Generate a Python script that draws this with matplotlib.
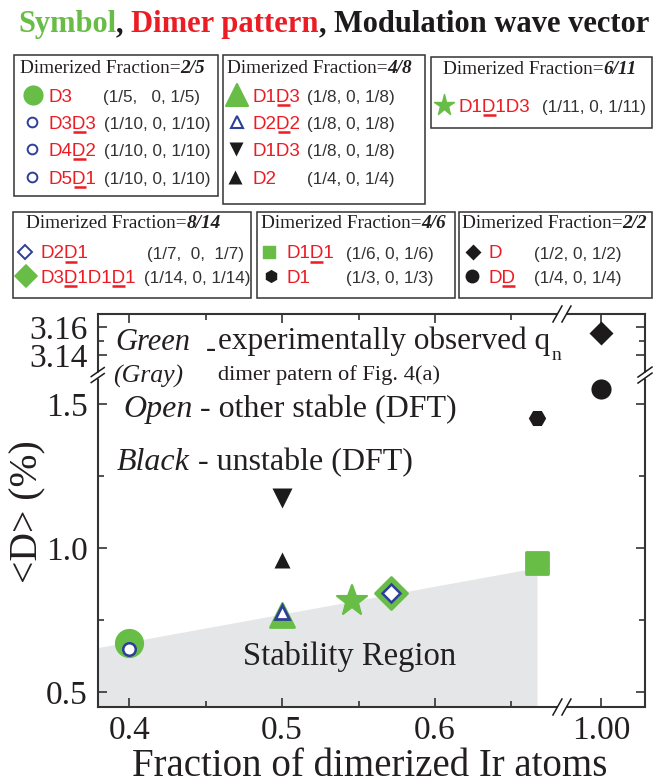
import numpy as np
import matplotlib
matplotlib.use("Agg")
import matplotlib.pyplot as plt
from matplotlib.patches import Rectangle
from matplotlib.markers import MarkerStyle

# ------------------------------------------------------------------ data
frac_ticks = [0.4, 0.5, 0.6, 1.0]
frac_tick_labels = ['0.4', '0.5', '0.6', '1.00']
frac_minor = [0.45, 0.55, 0.65]
d_ticks = [0.5, 1.0, 1.5, 3.14, 3.16]
d_tick_labels = ['0.5', '1.0', '1.5', '3.14', '3.16']
d_minor = [0.75, 1.25, 3.15]

# experimentally observed (green)
green_circle_x, green_circle_y = [2/5], [0.669]
green_tri_x, green_tri_y = [4/8], [0.769]
green_star_x, green_star_y = [6/11], [0.817]
green_diam_x, green_diam_y = [8/14], [0.845]
green_sq_x, green_sq_y = [4/6], [0.948]
# other stable (open)
open_circle_x, open_circle_y = [2/5], [0.648]
open_tri_x, open_tri_y = [4/8], [0.776]
open_diam_x, open_diam_y = [8/14], [0.845]
# unstable (black)
black_dtri_x, black_dtri_y = [4/8], [1.174]
black_utri_x, black_utri_y = [4/8], [0.959]
black_hex_x, black_hex_y = [4/6], [1.451]
black_circle_x, black_circle_y = [1.0], [1.552]
black_diam_x, black_diam_y = [1.0], [3.156]

# stability region
region_x = [0.3794, 0.667, 0.667, 0.3794]
region_y = [0.652, 0.930, 0.448, 0.448]

# axis limits and broken ranges
x_lim = (0.3794, 1.0288)
x_gap = (0.683, 0.9745)
y_lim = (0.448, 3.1693)
y_gap = (1.60, 3.1257)
y_upper_ratio = 1400 / 288.0

# legend boxes
box_titles = ['2/5', '4/8', '6/11', '8/14', '4/6', '2/2']
box_patterns = [['D3', 'D3D3', 'D4D2', 'D5D1'],
                ['D1D3', 'D2D2', 'D1D3', 'D2'],
                ['D1D1D3'],
                ['D2D1', 'D3D1D1D1'],
                ['D1D1', 'D1'],
                ['D', 'DD']]
box_underlines = [[[], [2], [2], [2]],
                  [[2], [2], [], []],
                  [[2]],
                  [[2], [2, 6]],
                  [[2], []],
                  [[], [1]]]
box_vectors = [['(1/5,   0, 1/5)', '(1/10, 0, 1/10)', '(1/10, 0, 1/10)', '(1/10, 0, 1/10)'],
               ['(1/8, 0, 1/8)', '(1/8, 0, 1/8)', '(1/8, 0, 1/8)', '(1/4, 0, 1/4)'],
               ['(1/11, 0, 1/11)'],
               ['(1/7,  0,  1/7)', '(1/14, 0, 1/14)'],
               ['(1/6, 0, 1/6)', '(1/3, 0, 1/3)'],
               ['(1/2, 0, 1/2)', '(1/4, 0, 1/4)']]

# ------------------------------------------------------------------ style
G = '#67bd45'
B = '#2e3f98'
K = '#1c1a1b'
R = '#ec1c24'
TXT = '#231f20'
VEC = '#333333'
GRAY = '#e5e6e7'
SERIF = 'Liberation Serif'
SANS = 'Liberation Sans'

plt.rcParams['font.family'] = 'serif'
plt.rcParams['font.serif'] = [SERIF, 'DejaVu Serif']

W, H = 655, 784
fig = plt.figure(figsize=(W / 100, H / 100), dpi=100)


def piecewise(lo_gap, hi_gap, ratio):
    kd = np.array([-100.0, lo_gap, hi_gap, 100.0])
    kt = np.array([-100.0, lo_gap, lo_gap + 1e-5,
                   lo_gap + 1e-5 + (100.0 - hi_gap) * ratio])
    return (lambda v: np.interp(v, kd, kt), lambda v: np.interp(v, kt, kd))


ax = fig.add_axes([97.7 / W, 1 - 707 / H, (645 - 97.7) / W, (707 - 314) / H])
ax.set_xscale('function', functions=piecewise(x_gap[0], x_gap[1], 1.0))
ax.set_yscale('function', functions=piecewise(y_gap[0], y_gap[1], y_upper_ratio))
ax.set_xlim(*x_lim)
ax.set_ylim(*y_lim)

ax.fill(region_x, region_y, color=GRAY, lw=0, zorder=1)


def mk(m):
    return MarkerStyle(m, joinstyle='round')


ax.plot(green_circle_x, green_circle_y, ls='none', marker='o', ms=21, mfc=G, mec='none', zorder=3)
ax.plot(open_circle_x, open_circle_y, ls='none', marker='o', ms=9, mfc='white', mec=B, mew=1.8, zorder=4)
ax.plot(green_tri_x, green_tri_y, ls='none', marker=mk('^'), ms=17, mfc=G, mec=G, mew=2, zorder=3)
ax.plot(open_tri_x, open_tri_y, ls='none', marker='^', ms=10, mfc='white', mec=B, mew=2, zorder=4)
ax.plot(green_star_x, green_star_y, ls='none', marker=mk('*'), ms=23, mfc=G, mec=G, mew=1.5, zorder=3)
ax.plot(green_diam_x, green_diam_y, ls='none', marker=mk('D'), ms=16, mfc=G, mec=G, mew=2, zorder=3)
ax.plot(open_diam_x, open_diam_y, ls='none', marker='D', ms=9.5, mfc='white', mec=B, mew=1.8, zorder=4)
ax.plot(green_sq_x, green_sq_y, ls='none', marker=mk('s'), ms=15.5, mfc=G, mec=G, mew=2, zorder=3)
ax.plot(black_dtri_x, black_dtri_y, ls='none', marker='v', ms=14, mfc=K, mec='none', zorder=3)
ax.plot(black_utri_x, black_utri_y, ls='none', marker='^', ms=11, mfc=K, mec='none', zorder=3)
ax.plot(black_hex_x, black_hex_y, ls='none', marker='H', ms=12.5, mfc=K, mec='none', zorder=3)
ax.plot(black_circle_x, black_circle_y, ls='none', marker='o', ms=14.5, mfc=K, mec='none', zorder=3)
ax.plot(black_diam_x, black_diam_y, ls='none', marker='D', ms=12.5, mfc=K, mec='none', zorder=3)

ax.set_xticks(frac_ticks, labels=frac_tick_labels)
ax.set_xticks(frac_minor, minor=True)
ax.set_yticks(d_ticks, labels=d_tick_labels)
ax.set_yticks(d_minor, minor=True)
ax.tick_params(which='both', direction='in', top=True, right=True, width=1.2,
               color='#333333', labelsize=24, labelcolor=TXT)
ax.tick_params(which='major', length=6.5)
ax.tick_params(which='minor', length=4.5)
ax.tick_params(axis='x', pad=6)
ax.tick_params(axis='y', pad=7)
for s in ax.spines.values():
    s.set_linewidth(1.5)
    s.set_color('#333333')

# ------------------------------------------------------------------ overlay (pixel coordinates)
ov = fig.add_axes([0, 0, 1, 1], zorder=5)
ov.set_xlim(0, W)
ov.set_ylim(H, 0)
ov.axis('off')
renderer = fig.canvas.get_renderer()


def adv(s, **kw):
    if not s:
        return 0.0
    t1 = ov.text(0, 0, s + '|', **kw)
    w1 = t1.get_window_extent(renderer).width
    t1.remove()
    t2 = ov.text(0, 0, '|', **kw)
    w2 = t2.get_window_extent(renderer).width
    t2.remove()
    return w1 - w2


def runs(x, y, parts, **common):
    for text, color, extra in parts:
        kw = dict(common)
        kw.update(extra)
        kw['color'] = color
        ov.text(x, y, text, va='baseline', ha='left', **kw)
        x += adv(text, **kw)
    return x


# title
runs(18, 32, [('Symbol', G, {}), (', ', K, {}), ('Dimer pattern', R, {}),
              (', ', K, {}), ('Modulation wave vector', K, {})],
     fontsize=22, family=SERIF, fontweight='bold')

# legend boxes
box_rects = [(14, 55, 218, 196), (223, 55, 425, 204), (431, 57, 652, 128),
             (13, 212, 251, 298), (257, 212, 455, 298), (459, 212, 652, 298)]
title_xy = [(20, 73), (227, 73), (443, 74), (26, 228), (261, 228), (462, 228)]
row_y = [[95, 122, 149, 177], [95, 122, 149, 177], [105], [252, 276], [252, 276], [252, 276]]
marker_x = [[33, 32, 32, 32], [237, 237, 236, 235], [444], [25, 26], [269, 271], [473, 472]]
text_x = [49, 253, 459, 40, 286, 488]
vec_x = [[103, 104, 104, 104], [307, 307, 307, 307], [542], [147, 144], [346, 346], [534, 534]]
marker_styles = [
    [dict(marker='o', ms=14.5, mfc=G, mec='none'),
     dict(marker='o', ms=7, mfc='white', mec=B, mew=1.4),
     dict(marker='o', ms=7, mfc='white', mec=B, mew=1.4),
     dict(marker='o', ms=7, mfc='white', mec=B, mew=1.4)],
    [dict(marker=mk('^'), ms=15.5, mfc=G, mec=G, mew=1.5),
     dict(marker='^', ms=9, mfc='white', mec=B, mew=1.5),
     dict(marker='v', ms=10, mfc=K, mec='none'),
     dict(marker='^', ms=9.5, mfc=K, mec='none')],
    [dict(marker=mk('*'), ms=15.5, mfc=G, mec=G, mew=1)],
    [dict(marker='D', ms=7, mfc='white', mec=B, mew=1.4),
     dict(marker=mk('D'), ms=11.5, mfc=G, mec=G, mew=1.2)],
    [dict(marker=mk('s'), ms=8.5, mfc=G, mec=G, mew=1),
     dict(marker='h', ms=9.5, mfc=K, mec='none')],
    [dict(marker='D', ms=8, mfc=K, mec='none'),
     dict(marker='o', ms=10, mfc=K, mec='none')],
]

PAT_KW = dict(fontsize=13.5, family=SANS, color=R)
for b, (x0, y0, x1, y1) in enumerate(box_rects):
    ov.add_patch(Rectangle((x0, y0), x1 - x0, y1 - y0, fill=False,
                           ec='#333333', lw=1.1))
    tx, ty = title_xy[b]
    runs(tx, ty, [('Dimerized Fraction=', TXT, {}),
                  (box_titles[b], TXT, dict(fontweight='bold', fontstyle='italic'))],
         fontsize=13.9, family=SERIF)
    for r, yc in enumerate(row_y[b]):
        ov.plot([marker_x[b][r]], [yc], ls='none', **marker_styles[b][r])
        s = box_patterns[b][r]
        ybase = yc + 6.5
        ov.text(text_x[b], ybase, s, va='baseline', ha='left', **PAT_KW)
        for i in box_underlines[b][r]:
            u0 = text_x[b] + adv(s[:i], **PAT_KW)
            u1 = text_x[b] + adv(s[:i + 1], **PAT_KW)
            ov.plot([u0 + 0.5, u1 - 0.5], [ybase + 3, ybase + 3], color=R,
                    lw=1.8, solid_capstyle='butt')
        ov.text(vec_x[b][r], ybase, box_vectors[b][r], va='baseline', ha='left',
                fontsize=12.3, family=SANS, color=VEC)

# annotations in plot
ov.text(115, 350, 'Green', fontsize=22, style='italic', color=TXT, va='baseline')
ov.text(206, 357, '-', fontsize=22, color=TXT, va='baseline')
q_end = runs(218, 349, [('experimentally observed q', TXT, {})], fontsize=22.5, family=SERIF)
ov.text(q_end + 1, 360, 'n', fontsize=14, color=TXT, va='baseline')
ov.text(113, 383, '(Gray)', fontsize=18.5, style='italic', color=TXT, va='baseline')
ov.text(218, 380, 'dimer patern of Fig. 4(a)', fontsize=16.2, color=TXT, va='baseline')
runs(123, 417, [('Open', TXT, dict(style='italic')), (' - other stable (DFT)', TXT, {})],
     fontsize=23, family=SERIF)
runs(117, 470, [('Black', TXT, dict(style='italic')), (' - unstable (DFT)', TXT, {})],
     fontsize=23, family=SERIF)
ov.text(243, 665, 'Stability Region', fontsize=23.5, color=TXT, va='baseline')

# axis labels
ov.text(370, 776, 'Fraction of dimerized Ir atoms', fontsize=28, color=TXT,
        ha='center', va='baseline')
ov.text(28, 512, '<D> (%)', fontsize=28.5, color=TXT, rotation=90,
        ha='center', va='center')


# break marks
def to_px(x, y):
    dx, dy = ax.transData.transform((x, y))
    return dx, H - dy


def breakmark(cx, cy, sx, sy, dx, dy):
    ov.plot([cx - sx / 2, cx + sx / 2], [cy - sy / 2, cy + sy / 2],
            color='white', lw=3.5, solid_capstyle='butt', zorder=6)
    for s in (-0.5, 0.5):
        x0, y0 = cx + s * sx, cy + s * sy
        ov.plot([x0 - dx / 2, x0 + dx / 2], [y0 + dy / 2, y0 - dy / 2],
                color=K, lw=1.1, zorder=7)


xb, ybot = to_px(x_gap[0], y_lim[0])
_, ytop = to_px(x_gap[0], y_lim[1])
breakmark(xb, ybot, 9, 0, 9, 16)
breakmark(xb, ytop, 9, 0, 9, 16)
xl, yb = to_px(x_lim[0], y_gap[0])
xr, _ = to_px(x_lim[1], y_gap[0])
breakmark(xl, yb, 0, 6, 13, 9)
breakmark(xr, yb, 0, 6, 14, 10)

fig.savefig('out.png', dpi=100)
